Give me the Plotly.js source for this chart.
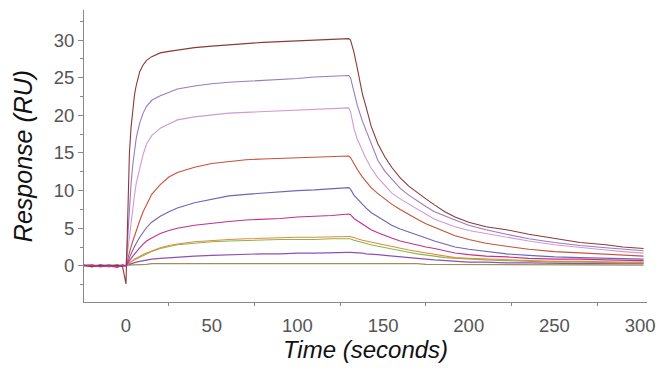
<!DOCTYPE html>
<html>
<head>
<meta charset="utf-8">
<script src="https://cdn.plot.ly/plotly-3.0.1.min.js"></script>
<style>html,body{margin:0;padding:0;background:#fff;}#chart{width:657px;height:368px;}</style>
</head>
<body>
<div id="chart"></div>
<script>
// Time points (seconds): baseline (6), association (25), dissociation (25)
const time = [-25,-20,-15,-10,-5,-2,
  0,0.5,1,2,3,4,5,6,8,10,12,15,20,25,30,40,50,60,70,80,90,100,110,120,130,
  131,133,135,138,140,143,147,151,155,160,165,170,175,180,186,192,200,210,222,235,250,265,280,290,302];

// Response (RU) per sensorgram
const s1 = [0.1,-0.1,0.1,0,0.1,-0.1,
  -2.4,3,8,15,18.5,21,22.8,24,25.8,26.7,27.3,27.8,28.3,28.5,28.7,29,29.2,29.4,29.6,29.7,29.8,29.9,30,30.1,30.2,
  30,28.4,26.2,22.8,21.2,18.6,16.2,14.5,13.1,11.7,10.6,9.7,8.9,8.1,7.2,6.5,5.8,5.2,4.8,4.2,3.6,3.1,2.8,2.5,2.3];
const s2 = [0,0.1,-0.1,0.1,0,0.1,
  0,2,4,8,11,13.5,15.5,17,19,20.3,21.2,22,22.6,23.1,23.5,23.9,24.2,24.4,24.5,24.7,24.8,24.9,25.1,25.2,25.3,
  25,23,21.3,19.2,18,16.3,14,12.6,11.6,10.3,9.4,8.6,7.9,7.2,6.6,6.1,5.4,4.8,4.2,3.6,3.1,2.7,2.4,2.2,2.0];
const s3 = [-0.1,0,0.1,-0.1,0.1,0,
  0,1,2,4,6,8,9.5,11,13,14.8,16.2,17.3,18.3,18.9,19.4,19.8,20.1,20.3,20.4,20.5,20.6,20.7,20.8,20.9,21,
  20.5,18.3,16.8,15.2,14.3,13,11.7,10.7,9.7,8.9,8.2,7.5,6.8,6.2,5.7,5.2,4.7,4.3,3.8,3.3,2.8,2.4,2.1,1.9,1.7];
const s4 = [0.1,0,-0.1,0.1,-0.1,0.1,
  0,0.5,1,1.8,2.6,3.3,4,4.8,6,7.2,8.2,9.5,10.8,11.8,12.4,13.1,13.6,13.9,14.1,14.2,14.3,14.3,14.4,14.5,14.6,
  14.4,13.5,12.8,11.8,11.2,10.4,9.6,8.9,8.2,7.5,6.8,6.2,5.6,5.1,4.5,4.0,3.5,3.0,2.6,2.2,1.9,1.7,1.5,1.4,1.3];
const s5 = [0,-0.1,0.1,0,0.1,-0.1,
  0,0.3,0.6,1.1,1.6,2.1,2.6,3,3.8,4.5,5.1,5.8,6.6,7.2,7.7,8.4,8.9,9.3,9.5,9.7,9.8,10,10.1,10.2,10.4,
  10.2,9.4,8.9,8.1,7.7,7.1,6.5,5.9,5.4,4.9,4.5,4.1,3.6,3.3,2.9,2.5,2.2,1.9,1.6,1.4,1.2,1.1,1.0,1.0,0.9];
const s6 = [0.1,0.1,-0.1,0,-0.2,0.1,
  0,0.2,0.4,0.7,1,1.3,1.6,1.9,2.4,2.9,3.3,3.7,4.3,4.7,5,5.4,5.7,5.9,6.1,6.2,6.3,6.5,6.6,6.7,6.9,
  6.8,6.3,6.0,5.5,5.2,4.8,4.4,4.0,3.7,3.3,3.0,2.7,2.5,2.3,2.0,1.7,1.5,1.3,1.2,1.0,0.9,0.9,0.8,0.8,0.7];
const s7 = [0,0.1,0,-0.1,0.1,0,
  0,0.1,0.2,0.4,0.6,0.8,0.9,1.0,1.3,1.5,1.7,2.0,2.4,2.7,2.9,3.2,3.4,3.5,3.6,3.7,3.7,3.8,3.8,3.9,3.9,
  3.9,3.7,3.6,3.4,3.3,3.1,2.9,2.7,2.5,2.3,2.1,1.9,1.7,1.5,1.3,1.1,1.0,0.9,0.8,0.7,0.6,0.6,0.5,0.5,0.5];
const s8 = [-0.1,0.1,0,0.1,0,-0.1,
  0,0.1,0.2,0.4,0.5,0.7,0.8,0.9,1.2,1.4,1.6,1.9,2.3,2.6,2.8,3.0,3.2,3.3,3.4,3.4,3.5,3.5,3.5,3.6,3.6,
  3.6,3.4,3.3,3.1,3.0,2.8,2.6,2.4,2.2,2.0,1.8,1.6,1.4,1.3,1.1,1.0,0.9,0.8,0.7,0.6,0.5,0.5,0.4,0.4,0.4];
const s9 = [0.1,-0.1,0,0.1,-0.1,0,
  0,0.1,0.1,0.2,0.3,0.4,0.5,0.5,0.6,0.7,0.8,0.9,1.0,1.1,1.2,1.3,1.4,1.5,1.5,1.6,1.6,1.7,1.7,1.8,1.8,
  1.8,1.8,1.7,1.7,1.6,1.6,1.5,1.4,1.3,1.2,1.1,1.0,0.9,0.8,0.7,0.6,0.5,0.5,0.4,0.4,0.3,0.3,0.3,0.3,0.3];
const s10 = [0,0,0.1,-0.1,0,0.1,
  0,0,0.1,0.1,0.1,0.1,0.2,0.2,0.2,0.2,0.2,0.3,0.3,0.3,0.3,0.3,0.4,0.4,0.4,0.4,0.4,0.4,0.4,0.4,0.4,
  0.4,0.4,0.4,0.4,0.4,0.4,0.3,0.3,0.3,0.3,0.3,0.3,0.2,0.2,0.2,0.2,0.2,0.2,0.1,0.1,0.1,0.1,0.1,0.1,0.1];

const xTickVals = [0,50,100,150,200,250,300];
const xMinorVals = [25,75,125,175,225,275];
const yTickVals = [0,5,10,15,20,25,30];
const yMinorVals = [-2.5,2.5,7.5,12.5,17.5,22.5,27.5,32.5];

const series = [
  {y: s10, color: '#9a9060'},
  {y: s9,  color: '#8e4fb8'},
  {y: s8,  color: '#86b84e'},
  {y: s7,  color: '#e8893a'},
  {y: s5,  color: '#6f64b8'},
  {y: s4,  color: '#c8503a'},
  {y: s3,  color: '#d39ad0'},
  {y: s2,  color: '#9a7bbf'},
  {y: s1,  color: '#8b3a3a'},
  {y: s6,  color: '#c22f8f'}
];

const traces = series.map(s => ({
  x: time, y: s.y, type: 'scatter', mode: 'lines',
  line: {color: s.color, width: 1.1},
  hoverinfo: 'skip'
}));

const tickFont = {family: 'Liberation Sans Narrow, Liberation Sans, Arial, sans-serif', size: 18.5, color: '#555'};
const titleFont = {family: 'Liberation Sans, Arial, sans-serif', size: 24, color: '#111', style: 'italic'};

const layout = {
  width: 657, height: 368,
  margin: {l: 84, r: 10, t: 10, b: 66},
  paper_bgcolor: '#fff', plot_bgcolor: '#fff',
  showlegend: false,
  xaxis: {
    range: [-24.5, 304],
    tickmode: 'array', tickvals: xTickVals, ticktext: xTickVals.map(String),
    ticks: '', showgrid: false, zeroline: false,
    showline: true, linecolor: '#888', linewidth: 1,
    tickfont: tickFont, ticklabelstandoff: 7,
    minor: {tickmode: 'array', tickvals: xMinorVals, ticks: 'outside', ticklen: 3, tickcolor: '#888', showgrid: false},
    title: {text: 'Time (seconds)', font: titleFont, standoff: 5}
  },
  yaxis: {
    range: [-4.8, 34],
    tickmode: 'array', tickvals: yTickVals, ticktext: yTickVals.map(String),
    ticks: 'outside', ticklen: 5, tickcolor: '#888',
    showgrid: false, zeroline: false,
    showline: true, linecolor: '#888', linewidth: 1,
    tickfont: tickFont,
    minor: {tickmode: 'array', tickvals: yMinorVals, ticks: 'outside', ticklen: 3, tickcolor: '#888', showgrid: false},
    title: {text: 'Response (RU)', font: Object.assign({}, titleFont, {size: 25}), standoff: 13}
  }
};

Plotly.newPlot('chart', traces, layout, {displayModeBar: false, staticPlot: true});
</script>
</body>
</html>
